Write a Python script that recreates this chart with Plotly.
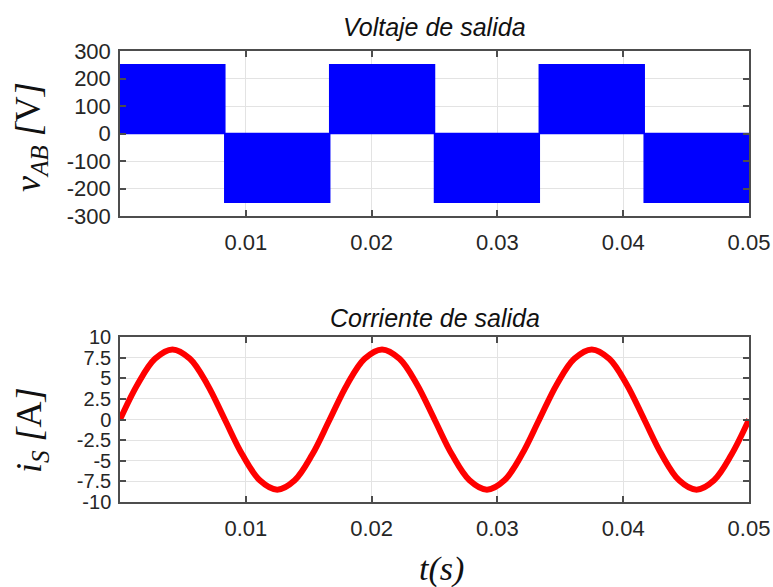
import plotly.graph_objects as go

# ---- data ----
switch_times = [0.0, 0.00833, 0.01667, 0.025, 0.03333, 0.04167, 0.05]
voltage_levels = [250, -250, 250, -250, 250, -250]

t_current = [0.0, 0.00139, 0.00278, 0.00417, 0.00556, 0.00694, 0.00833,
             0.00972, 0.01111, 0.0125, 0.01389, 0.01528, 0.01667,
             0.01806, 0.01944, 0.02083, 0.02222, 0.02361, 0.025,
             0.02639, 0.02778, 0.02917, 0.03056, 0.03194, 0.03333,
             0.03472, 0.03611, 0.0375, 0.03889, 0.04028, 0.04167,
             0.04306, 0.04444, 0.04583, 0.04722, 0.04861, 0.05]
i_current = [0.0, 4.25, 7.36, 8.5, 7.36, 4.25, 0.0,
             -4.25, -7.36, -8.5, -7.36, -4.25, 0.0,
             4.25, 7.36, 8.5, 7.36, 4.25, 0.0,
             -4.25, -7.36, -8.5, -7.36, -4.25, 0.0,
             4.25, 7.36, 8.5, 7.36, 4.25, 0.0,
             -4.25, -7.36, -8.5, -7.36, -4.25, 0.0]

x_ticks = [0.01, 0.02, 0.03, 0.04, 0.05]
x_ticklabels = ["0.01", "0.02", "0.03", "0.04", "0.05"]
v_ticks = [300, 200, 100, 0, -100, -200, -300]
v_ticklabels = ["300", "200", "100", "0", "-100", "-200", "-300"]
i_ticks = [10, 7.5, 5, 2.5, 0, -2.5, -5, -7.5, -10]
i_ticklabels = ["10", "7.5", "5", "2.5", "0", "-2.5", "-5", "-7.5", "-10"]

W, H = 773, 587
fig = go.Figure()

# voltage: filled PWM envelopes per half cycle
for k, lvl in enumerate(voltage_levels):
    t0, t1 = switch_times[k], switch_times[k + 1]
    fig.add_trace(go.Scatter(
        x=[t0, t0, t1, t1, t0], y=[0, lvl, lvl, 0, 0],
        fill="toself", fillcolor="#0000ff", mode="lines",
        line=dict(color="#0000ff", width=1.5),
        xaxis="x", yaxis="y", showlegend=False, hoverinfo="skip"))

# current
fig.add_trace(go.Scatter(
    x=t_current, y=i_current, mode="lines",
    line=dict(color="#ff0000", width=6, shape="spline", smoothing=1.0),
    xaxis="x2", yaxis="y2", showlegend=False))

def tickfont(size):
    return dict(family="Liberation Sans, Arial, sans-serif", size=size, color="#262626")

axis_common = dict(
    showline=True, linecolor="#4d4d4d", linewidth=1.5, mirror="ticks",
    ticks="inside", ticklen=6, tickcolor="#4d4d4d", tickwidth=1.5,
    showgrid=True, gridcolor="#e3e3e3", gridwidth=1.2, zeroline=False,
    automargin=False,
)

xd = [120 / W, 749 / W]
fig.update_layout(
    width=W, height=H, margin=dict(l=0, r=0, t=0, b=0, pad=0), autosize=False,
    paper_bgcolor="white", plot_bgcolor="white",
    xaxis=dict(domain=xd, range=[0, 0.05], tickvals=x_ticks, ticktext=x_ticklabels,
               anchor="y", ticklabelstandoff=6, tickfont=tickfont(22), **axis_common),
    yaxis=dict(domain=[1 - 216 / H, 1 - 51 / H], range=[-300, 300], tickvals=v_ticks,
               ticktext=v_ticklabels, anchor="x", ticklabelstandoff=3,
               tickfont=tickfont(22), **axis_common),
    xaxis2=dict(domain=xd, range=[0, 0.05], tickvals=x_ticks, ticktext=x_ticklabels,
                anchor="y2", ticklabelstandoff=6, tickfont=tickfont(22), **axis_common),
    yaxis2=dict(domain=[1 - 502 / H, 1 - 337 / H], range=[-10, 10], tickvals=i_ticks,
                ticktext=i_ticklabels, anchor="x2", ticklabelstandoff=3,
                tickfont=tickfont(20), **axis_common),
)

title_font = dict(family="Liberation Sans, Arial, sans-serif", size=25, color="#111111")
label_font = dict(family="Liberation Serif, Times New Roman, serif", size=36, color="#111111")
ann = dict(xref="paper", yref="paper", showarrow=False, xanchor="center", yanchor="middle")
fig.add_annotation(text="<i>Voltaje de salida</i>", x=435 / W, y=1 - 27 / H, font=title_font, **ann)
fig.add_annotation(text="<i>Corriente de salida</i>", x=435 / W, y=1 - 318 / H, font=title_font, **ann)
fig.add_annotation(text="<i>v</i><sub><i>AB</i></sub> <i>[</i>V<i>]</i>", x=31 / W, y=1 - 137 / H,
                   textangle=-90, font=label_font, **ann)
fig.add_annotation(text="<i>i</i><sub><i>S</i></sub> <i>[</i>A<i>]</i>", x=31 / W, y=1 - 430 / H,
                   textangle=-90, font=label_font, **ann)
fig.add_annotation(text="<i>t(s)</i>", x=442 / W, y=1 - 569 / H,
                   font=dict(family="Liberation Serif, Times New Roman, serif", size=34, color="#111111"),
                   **ann)

fig.write_html("out.html")
